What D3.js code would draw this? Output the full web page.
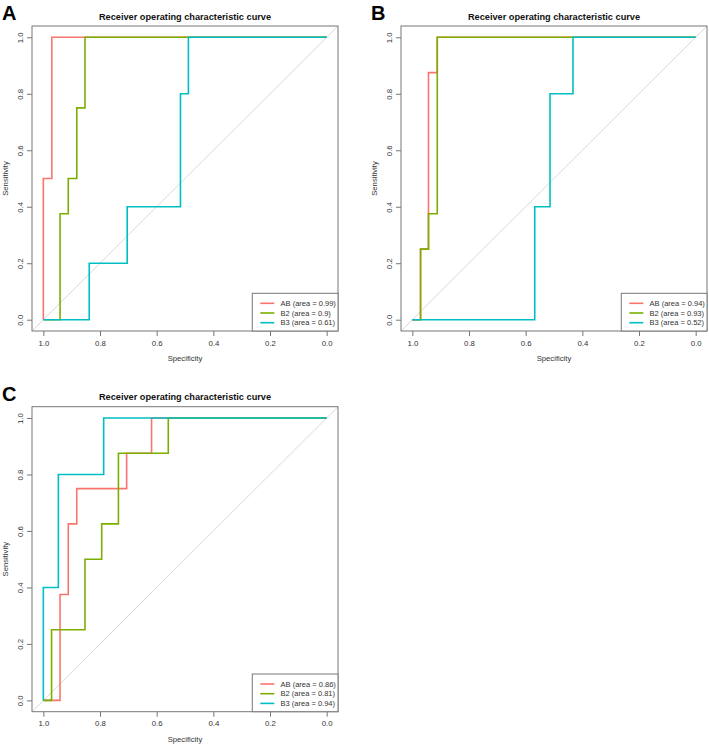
<!DOCTYPE html>
<html>
<head>
<meta charset="utf-8">
<script src="https://cdn.jsdelivr.net/npm/d3@7/dist/d3.min.js"></script>
<style>
  html, body { margin: 0; padding: 0; background: #fff; }
  svg { display: block; }
  text { font-family: "Liberation Sans", Arial, sans-serif; }
</style>
</head>
<body>
<svg id="chart" width="709" height="746"></svg>
<script>
// ---------------- DATA ----------------
const seriesNames = ["AB", "B2", "B3"];
const xTicks = [1.0, 0.8, 0.6, 0.4, 0.2, 0.0];
const yTicks = [0.0, 0.2, 0.4, 0.6, 0.8, 1.0];
const panelLetters = ["A", "B", "C"];

// Panel A
const A_AB_spec = [1, 1, 0.97, 0.97, 0];
const A_AB_sens = [0, 0.5, 0.5, 1, 1];
const A_B2_spec = [1, 0.941, 0.941, 0.912, 0.912, 0.882, 0.882, 0.853, 0.853, 0];
const A_B2_sens = [0, 0, 0.375, 0.375, 0.5, 0.5, 0.75, 0.75, 1, 1];
const A_B3_spec = [1, 0.838, 0.838, 0.704, 0.704, 0.516, 0.516, 0.488, 0.488, 0];
const A_B3_sens = [0, 0, 0.2, 0.2, 0.4, 0.4, 0.8, 0.8, 1, 1];
const A_auc = [0.99, 0.9, 0.61];

// Panel B
const B_AB_spec = [1, 0.971, 0.971, 0.943, 0.943, 0.912, 0.912, 0];
const B_AB_sens = [0, 0, 0.25, 0.25, 0.875, 0.875, 1, 1];
const B_B2_spec = [1, 0.971, 0.971, 0.943, 0.943, 0.912, 0.912, 0];
const B_B2_sens = [0, 0, 0.25, 0.25, 0.375, 0.375, 1, 1];
const B_B3_spec = [1, 0.568, 0.568, 0.514, 0.514, 0.433, 0.433, 0];
const B_B3_sens = [0, 0, 0.4, 0.4, 0.8, 0.8, 1, 1];
const B_auc = [0.94, 0.93, 0.52];

// Panel C
const C_AB_spec = [1, 0.941, 0.941, 0.912, 0.912, 0.882, 0.882, 0.706, 0.706, 0.618, 0.618, 0];
const C_AB_sens = [0, 0, 0.375, 0.375, 0.625, 0.625, 0.75, 0.75, 0.875, 0.875, 1, 1];
const C_B2_spec = [1, 0.971, 0.971, 0.853, 0.853, 0.794, 0.794, 0.735, 0.735, 0.559, 0.559, 0];
const C_B2_sens = [0, 0, 0.25, 0.25, 0.5, 0.5, 0.625, 0.625, 0.875, 0.875, 1, 1];
const C_B3_spec = [1, 1, 0.947, 0.947, 0.787, 0.787, 0];
const C_B3_sens = [0, 0.4, 0.4, 0.8, 0.8, 1, 1];
const C_auc = [0.86, 0.81, 0.94];

// ---------------- STYLE / LAYOUT ----------------
const colors = ["#F8766D", "#7CAE00", "#00BFC4"];
const boxColor = "#777";
const plotW = 306, plotH = 305;

const panels = [
  { letter: panelLetters[0], x0: 32, y0: 26,
    series: [[A_AB_spec, A_AB_sens], [A_B2_spec, A_B2_sens], [A_B3_spec, A_B3_sens]], auc: A_auc },
  { letter: panelLetters[1], x0: 401, y0: 26,
    series: [[B_AB_spec, B_AB_sens], [B_B2_spec, B_B2_sens], [B_B3_spec, B_B3_sens]], auc: B_auc },
  { letter: panelLetters[2], x0: 32, y0: 406.7,
    series: [[C_AB_spec, C_AB_sens], [C_B2_spec, C_B2_sens], [C_B3_spec, C_B3_sens]], auc: C_auc }
];

const svg = d3.select("#chart");

panels.forEach((p, pi) => {
  const g = svg.append("g").attr("transform", `translate(${p.x0},${p.y0})`);
  const x = d3.scaleLinear().domain([1.04, -0.04]).range([0, plotW]);
  const y = d3.scaleLinear().domain([-0.04, 1.04]).range([plotH, 0]);

  const clipId = "clip" + pi;
  g.append("clipPath").attr("id", clipId)
    .append("rect").attr("width", plotW).attr("height", plotH);

  // diagonal
  g.append("line")
    .attr("x1", x(1.04)).attr("y1", y(-0.04))
    .attr("x2", x(-0.04)).attr("y2", y(1.04))
    .attr("stroke", "#d8d8d8").attr("stroke-width", 1)
    .attr("clip-path", `url(#${clipId})`);

  // curves
  const line = d3.line().x(d => x(d[0])).y(d => y(d[1]));
  p.series.forEach((s, i) => {
    const pts = s[0].map((v, k) => [v, s[1][k]]);
    g.append("path").datum(pts)
      .attr("d", line)
      .attr("fill", "none")
      .attr("stroke", colors[i])
      .attr("stroke-width", 1.6)
      .attr("clip-path", `url(#${clipId})`);
  });

  // box
  g.append("rect").attr("width", plotW).attr("height", plotH)
    .attr("fill", "none").attr("stroke", boxColor).attr("stroke-width", 1);

  // x axis
  const xAxis = d3.axisBottom(x).tickValues(xTicks).tickFormat(d3.format(".1f"))
    .tickSizeOuter(0).tickSizeInner(5).tickPadding(4);
  const xg = g.append("g").attr("transform", `translate(0,${plotH})`).call(xAxis);
  xg.select(".domain").remove();
  xg.selectAll(".tick line").attr("stroke", boxColor);
  xg.selectAll(".tick text").attr("font-size", 7.8).attr("fill", "#333")
    .attr("font-family", "Liberation Sans, Arial, sans-serif");

  // y axis
  const yAxis = d3.axisLeft(y).tickValues(yTicks).tickFormat(d3.format(".1f"))
    .tickSizeOuter(0).tickSizeInner(5).tickPadding(0);
  const yg = g.append("g").call(yAxis);
  yg.select(".domain").remove();
  yg.selectAll(".tick line").attr("stroke", boxColor);
  yg.selectAll(".tick text")
    .attr("font-size", 7.8).attr("fill", "#333")
    .attr("font-family", "Liberation Sans, Arial, sans-serif")
    .attr("x", 0).attr("dy", null)
    .attr("text-anchor", "middle")
    .attr("transform", "translate(-9.5,0) rotate(-90)");

  // axis titles
  g.append("text").attr("x", plotW / 2).attr("y", plotH + 30)
    .attr("text-anchor", "middle").attr("font-size", 7.7).attr("fill", "#333")
    .text("Specificity");
  g.append("text")
    .attr("transform", `translate(${-24.5},${plotH / 2}) rotate(-90)`)
    .attr("text-anchor", "middle").attr("font-size", 7.7).attr("fill", "#333")
    .text("Sensitivity");

  // title
  g.append("text").attr("x", plotW / 2).attr("y", -6.5)
    .attr("text-anchor", "middle").attr("font-size", 9.2).attr("font-weight", "bold")
    .attr("fill", "#111")
    .text("Receiver operating characteristic curve");

  // panel letter
  g.append("text").attr("x", -30).attr("y", -6)
    .attr("font-size", 20).attr("font-weight", "bold").attr("fill", "#000")
    .text(p.letter);

  // legend
  const lw = 85.7, lh = 37.7;
  const lg = g.append("g").attr("transform", `translate(${plotW - lw},${plotH - lh})`);
  lg.append("rect").attr("width", lw).attr("height", lh)
    .attr("fill", "#fff").attr("stroke", boxColor).attr("stroke-width", 1);
  seriesNames.forEach((n, i) => {
    const cy = 10 + i * 9.7;
    lg.append("line").attr("x1", 8).attr("x2", 22).attr("y1", cy).attr("y2", cy)
      .attr("stroke", colors[i]).attr("stroke-width", 1.6);
    lg.append("text").attr("x", 28.3).attr("y", cy).attr("dy", "0.35em")
      .attr("font-size", 7.5).attr("fill", "#333")
      .text(`${n} (area = ${p.auc[i]})`);
  });
});
</script>
</body>
</html>
